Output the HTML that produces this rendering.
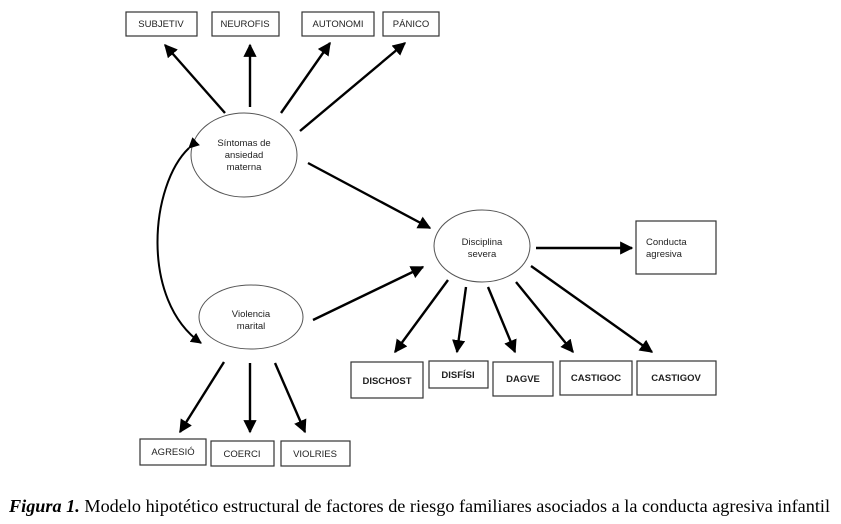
<!DOCTYPE html>
<html><head><meta charset="utf-8"><style>
html,body{margin:0;padding:0;background:#fff;}
svg{display:block;}
.b{fill:#fff;stroke:#333;stroke-width:1.2;}
.e{fill:#fff;stroke:#555;stroke-width:1;}
.l{stroke:#000;stroke-width:2.4;fill:none;}
.t{font-family:"Liberation Sans",sans-serif;font-size:9.5px;fill:#222;text-anchor:middle;}
</style></head><body>
<svg width="841" height="524" viewBox="0 0 841 524" xmlns="http://www.w3.org/2000/svg">
<defs><marker id="a" viewBox="0 0 10 10" refX="9" refY="5" markerWidth="5.5" markerHeight="5.5" orient="auto"><path d="M0,0 L10,5 L0,10 z" fill="#000"/></marker></defs>
<rect class="b" x="126" y="12" width="71" height="24"/><text class="t" x="161" y="27">SUBJETIV</text>
<rect class="b" x="212" y="12" width="67" height="24"/><text class="t" x="245" y="27">NEUROFIS</text>
<rect class="b" x="302" y="12" width="72" height="24"/><text class="t" x="338" y="27">AUTONOMI</text>
<rect class="b" x="383" y="12" width="56" height="24"/><text class="t" x="411" y="27">PÁNICO</text>
<ellipse class="e" cx="244" cy="155" rx="53" ry="42"/>
<text class="t" x="244" y="146">Síntomas de</text><text class="t" x="244" y="158">ansiedad</text><text class="t" x="244" y="170">materna</text>
<ellipse class="e" cx="482" cy="246" rx="48" ry="36"/>
<text class="t" x="482" y="245">Disciplina</text><text class="t" x="482" y="257">severa</text>
<ellipse class="e" cx="251" cy="317" rx="52" ry="32"/>
<text class="t" x="251" y="317">Violencia</text><text class="t" x="251" y="329">marital</text>
<rect class="b" x="636" y="221" width="80" height="53"/>
<text class="t" x="646" y="245" style="text-anchor:start">Conducta</text><text class="t" x="646" y="257" style="text-anchor:start">agresiva</text>
<rect class="b" x="351" y="362" width="72" height="36"/><text class="t" x="387" y="384" style="font-weight:bold">DISCHOST</text>
<rect class="b" x="429" y="361" width="59" height="27" /><text class="t" x="458" y="378" style="font-weight:bold">DISFÍSI</text>
<rect class="b" x="493" y="362" width="60" height="34"/><text class="t" x="523" y="382" style="font-weight:bold">DAGVE</text>
<rect class="b" x="560" y="361" width="72" height="34"/><text class="t" x="596" y="381" style="font-weight:bold">CASTIGOC</text>
<rect class="b" x="637" y="361" width="79" height="34"/><text class="t" x="676" y="381" style="font-weight:bold">CASTIGOV</text>
<rect class="b" x="140" y="439" width="66" height="26"/><text class="t" x="173" y="455">AGRESIÓ</text>
<rect class="b" x="211" y="441" width="63" height="25"/><text class="t" x="242" y="457">COERCI</text>
<rect class="b" x="281" y="441" width="69" height="25"/><text class="t" x="315" y="457">VIOLRIES</text>
<line class="l" x1="225" y1="113" x2="165" y2="45" marker-end="url(#a)"/>
<line class="l" x1="250" y1="107" x2="250" y2="45" marker-end="url(#a)"/>
<line class="l" x1="281" y1="113" x2="330" y2="43" marker-end="url(#a)"/>
<line class="l" x1="300" y1="131" x2="405" y2="43" marker-end="url(#a)"/>
<line class="l" x1="308" y1="163" x2="430" y2="228" marker-end="url(#a)"/>
<line class="l" x1="313" y1="320" x2="423" y2="267" marker-end="url(#a)"/>
<line class="l" x1="536" y1="248" x2="632" y2="248" marker-end="url(#a)"/>
<line class="l" x1="448" y1="280" x2="395" y2="352" marker-end="url(#a)"/>
<line class="l" x1="466" y1="287" x2="457" y2="352" marker-end="url(#a)"/>
<line class="l" x1="488" y1="287" x2="515" y2="352" marker-end="url(#a)"/>
<line class="l" x1="516" y1="282" x2="573" y2="352" marker-end="url(#a)"/>
<line class="l" x1="531" y1="266" x2="652" y2="352" marker-end="url(#a)"/>
<line class="l" x1="224" y1="362" x2="180" y2="432" marker-end="url(#a)"/>
<line class="l" x1="250" y1="363" x2="250" y2="432" marker-end="url(#a)"/>
<line class="l" x1="275" y1="363" x2="305" y2="432" marker-end="url(#a)"/>
<path class="l" d="M189,148 C150,185 140,300 201,343" marker-start="url(#a)" marker-end="url(#a)" style="stroke-width:2"/>
<text x="9" y="512" textLength="821" lengthAdjust="spacingAndGlyphs" style="font-family:'Liberation Serif',serif;font-size:18px;fill:#000"><tspan font-weight="bold" font-style="italic">Figura 1.</tspan> Modelo hipotético estructural de factores de riesgo familiares asociados a la conducta agresiva infantil</text>
</svg>
</body></html>
